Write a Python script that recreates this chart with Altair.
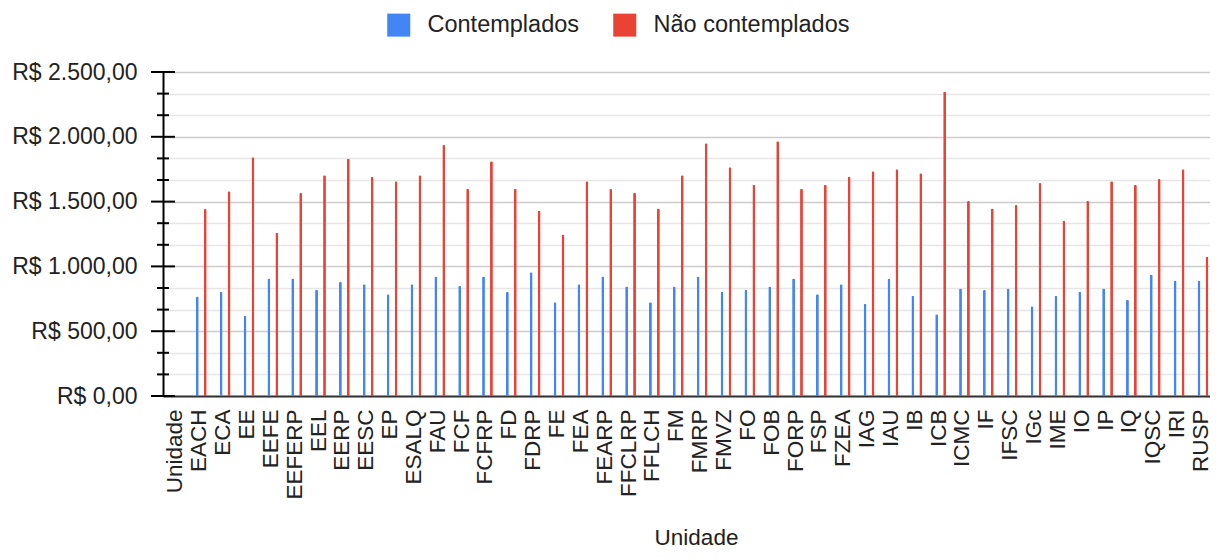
import altair as alt
import pandas as pd

unidades = ["Unidade", "EACH", "ECA", "EE", "EEFE", "EEFERP", "EEL", "EERP", "EESC", "EP",
            "ESALQ", "FAU", "FCF", "FCFRP", "FD", "FDRP", "FE", "FEA", "FEARP", "FFCLRP",
            "FFLCH", "FM", "FMRP", "FMVZ", "FO", "FOB", "FORP", "FSP", "FZEA", "IAG",
            "IAU", "IB", "ICB", "ICMC", "IF", "IFSC", "IGc", "IME", "IO", "IP",
            "IQ", "IQSC", "IRI", "RUSP"]

contemplados = [None, 768, 802, 619, 907, 907, 817, 879, 863, 786,
                863, 923, 848, 923, 802, 954, 724, 863, 923, 845,
                724, 845, 923, 802, 817, 845, 907, 786, 863, 709,
                907, 771, 631, 830, 817, 830, 693, 771, 802, 830,
                740, 938, 892, 892]

nao_contemplados = [None, 1443, 1580, 1843, 1260, 1567, 1704, 1830, 1691, 1657,
                    1704, 1936, 1598, 1812, 1598, 1430, 1247, 1657, 1598, 1567,
                    1446, 1704, 1951, 1765, 1629, 1966, 1598, 1629, 1691, 1735,
                    1750, 1719, 2348, 1505, 1446, 1474, 1644, 1353, 1505, 1657,
                    1629, 1675, 1750, 1075]

series = ["Contemplados", "Não contemplados"]
cores = ["#4285F4", "#EA4335"]

major_ticks = [0, 500, 1000, 1500, 2000, 2500]
all_ticks = [k * 500 / 3 for k in range(16)]
minor_ticks = [t for t in all_ticks if t not in major_ticks]

rows = []
for u, c, n in zip(unidades, contemplados, nao_contemplados):
    if c is not None:
        rows.append({"unidade": u, "serie": series[0], "valor": c})
    if n is not None:
        rows.append({"unidade": u, "serie": series[1], "valor": n})
df = pd.DataFrame(rows)

FONT = "Liberation Sans"
yscale = alt.Scale(domain=[0, 2500], nice=False, zero=True)

STEP = 23.85
X_RANGE = [0, 44 * STEP + 5]

is_major = "abs(datum.value/500 - round(datum.value/500)) < 0.001"
label_expr = (
    is_major + " ? "
    "'R$ ' + replace(replace(replace(format(datum.value, ',.2f'), ',', '_'), '.', ','), '_', '.') : ''"
)

yaxis = alt.Axis(
    title=None,
    values=all_ticks,
    labelExpr=label_expr,
    labelFontSize=23,
    labelColor="#222222",
    labelPadding=26,
    ticks=False,
    domainColor="#000000",
    domainWidth=2,
    grid=True,
    gridColor={"condition": {"test": is_major, "value": "#cccccc"}, "value": "#e6e6e6"},
    gridWidth=1.5,
)

bars = alt.Chart(df).mark_bar(cornerRadiusTopLeft=1.2, cornerRadiusTopRight=1.2).encode(
    x=alt.X(
        "unidade:N",
        scale=alt.Scale(domain=unidades, range=X_RANGE, paddingInner=0, paddingOuter=2.5 / STEP),
        sort=unidades,
        axis=alt.Axis(
            title="Unidade",
            labelAngle=-90,
            labelFontSize=22.5,
            labelColor="#222222",
            labelPadding=13,
            labelOffset=-2,
            ticks=False,
            domainColor="#333333",
            domainWidth=2,
            grid=False,
            titleFontSize=22.5,
            titleFontWeight="normal",
            titleColor="#222222",
            titleX=533,
            titleY=148,
            titleAlign="center",
            titleBaseline="alphabetic",
        ),
    ),
    xOffset=alt.XOffset("serie:N", scale=alt.Scale(domain=series, paddingInner=0.64, paddingOuter=0.82)),
    y=alt.Y("valor:Q", scale=yscale, axis=yaxis),
    color=alt.Color(
        "serie:N",
        scale=alt.Scale(domain=series, range=cores),
        legend=alt.Legend(
            title=None,
            orient="none",
            direction="horizontal",
            legendX=224,
            legendY=-59,
            symbolType="square",
            symbolSize=529,
            symbolStrokeWidth=0,
            symbolOpacity=1,
            labelFontSize=23.5,
            labelColor="#222222",
            labelOffset=17,
            labelLimit=0,
            columnPadding=33,
            padding=0,
        ),
    ),
)

major_df = pd.DataFrame({"valor": major_ticks})
minor_df = pd.DataFrame({"valor": minor_ticks})

major_rules = alt.Chart(major_df).mark_rule(color="#000000", strokeWidth=2).encode(
    y=alt.Y("valor:Q", scale=yscale, axis=yaxis),
    x=alt.value(-12),
    x2=alt.value(12),
)
minor_rules = alt.Chart(minor_df).mark_rule(color="#000000", strokeWidth=2).encode(
    y=alt.Y("valor:Q", scale=yscale, axis=yaxis),
    x=alt.value(-6),
    x2=alt.value(6),
)

chart = alt.layer(bars, major_rules, minor_rules).properties(
    width=1047,
    height=324,
    autosize=alt.AutoSizeParams(type="none"),
    padding={"left": 155, "top": 64, "right": 0, "bottom": 151},
).configure(
    font=FONT,
).configure_view(
    stroke=None,
)

chart.save("out.html", embed_options={"renderer": "svg", "actions": False})
